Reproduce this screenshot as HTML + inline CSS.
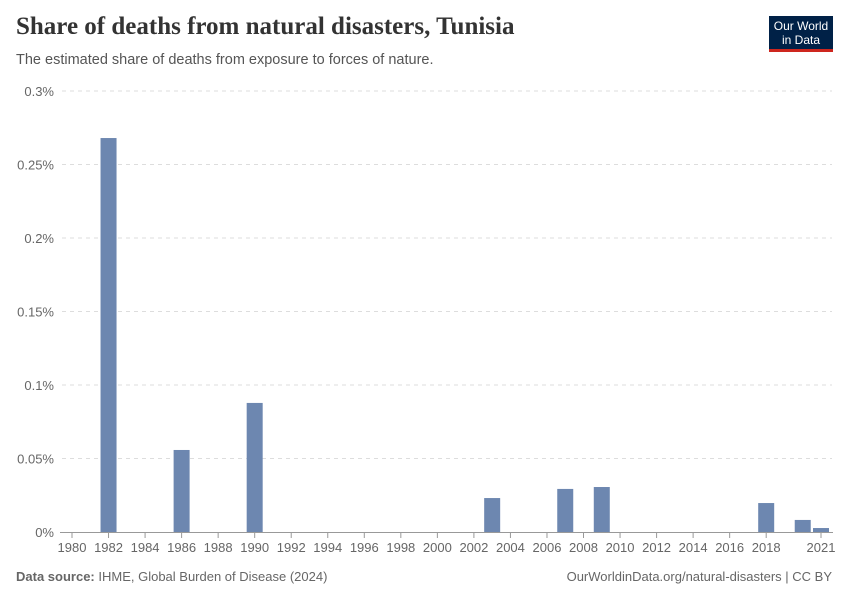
<!DOCTYPE html>
<html><head><meta charset="utf-8"><style>
body{margin:0;background:#fff;font-family:"Liberation Sans",sans-serif;}
#wrap{position:relative;width:850px;height:600px;overflow:hidden;}
</style></head><body>
<div id="wrap">
<div style="position:absolute;left:16px;top:13px;font-family:'Liberation Serif',serif;font-size:25px;font-weight:bold;color:#333;">Share of deaths from natural disasters, Tunisia</div>
<div style="position:absolute;left:16px;top:52px;font-size:14.5px;color:#555;">The estimated share of deaths from exposure to forces of nature.</div>
<div style="position:absolute;left:769px;top:16px;width:64px;height:36px;background:#002147;border-bottom:3px solid #ce261e;color:#fff;font-size:12px;text-align:center;line-height:14px;padding-top:3px;box-sizing:border-box;">Our World<br>in Data</div>
<svg id="chart" width="850" height="600" style="position:absolute;left:0;top:0"></svg>
<div style="position:absolute;left:16px;top:569px;font-size:13px;color:#666;"><b>Data source:</b> IHME, Global Burden of Disease (2024)</div>
<div style="position:absolute;right:18px;top:569px;font-size:13px;color:#666;">OurWorldinData.org/natural-disasters | CC BY</div>
</div>
<script>
const years=[1982,1986,1990,2003,2007,2009,2018,2020,2021];
const values=[0.268,0.0558,0.0878,0.0231,0.0293,0.0306,0.0197,0.0082,0.0027];
const yTicks=[0,0.05,0.1,0.15,0.2,0.25,0.3];
const yTickLabels=["0%","0.05%","0.1%","0.15%","0.2%","0.25%","0.3%"];
const xTicks=[1980,1982,1984,1986,1988,1990,1992,1994,1996,1998,2000,2002,2004,2006,2008,2010,2012,2014,2016,2018,2021];
const NS="http://www.w3.org/2000/svg";
const svg=document.getElementById('chart');
const x=v=>72+(v-1980)*(821-72)/41;
const y=v=>532-v*(532-91)/0.3;
function mk(t,a){const e=document.createElementNS(NS,t);for(const k in a)e.setAttribute(k,a[k]);svg.appendChild(e);return e;}
yTicks.forEach((t,i)=>{
 if(t>0){const l=mk('line',{x1:62,x2:832,y1:y(t),y2:y(t),stroke:'#ddd','stroke-dasharray':'4,4'});
 
 }
 const tx=mk('text',{x:54,y:y(t)+5,'text-anchor':'end','font-size':13,fill:'#666','font-family':'Liberation Sans,sans-serif'});
 tx.textContent=yTickLabels[i];
 
 
});
years.forEach((yr,i)=>{
 const r=mk('rect',{x:x(yr)-8,y:y(values[i]),width:16,height:532-y(values[i]),fill:'#6d87b0'});
 
 
});
const ax=mk('line',{x1:60,x2:833,y1:532.5,y2:532.5,stroke:'#999'});


xTicks.forEach(t=>{
 const tk=mk('line',{x1:x(t),x2:x(t),y1:533,y2:538,stroke:'#999'});
 
 
 const tx=mk('text',{x:x(t),y:552,'text-anchor':'middle','font-size':13,fill:'#666','font-family':'Liberation Sans,sans-serif'});
 tx.textContent=t;
 
 
});
</script>
</body></html>
